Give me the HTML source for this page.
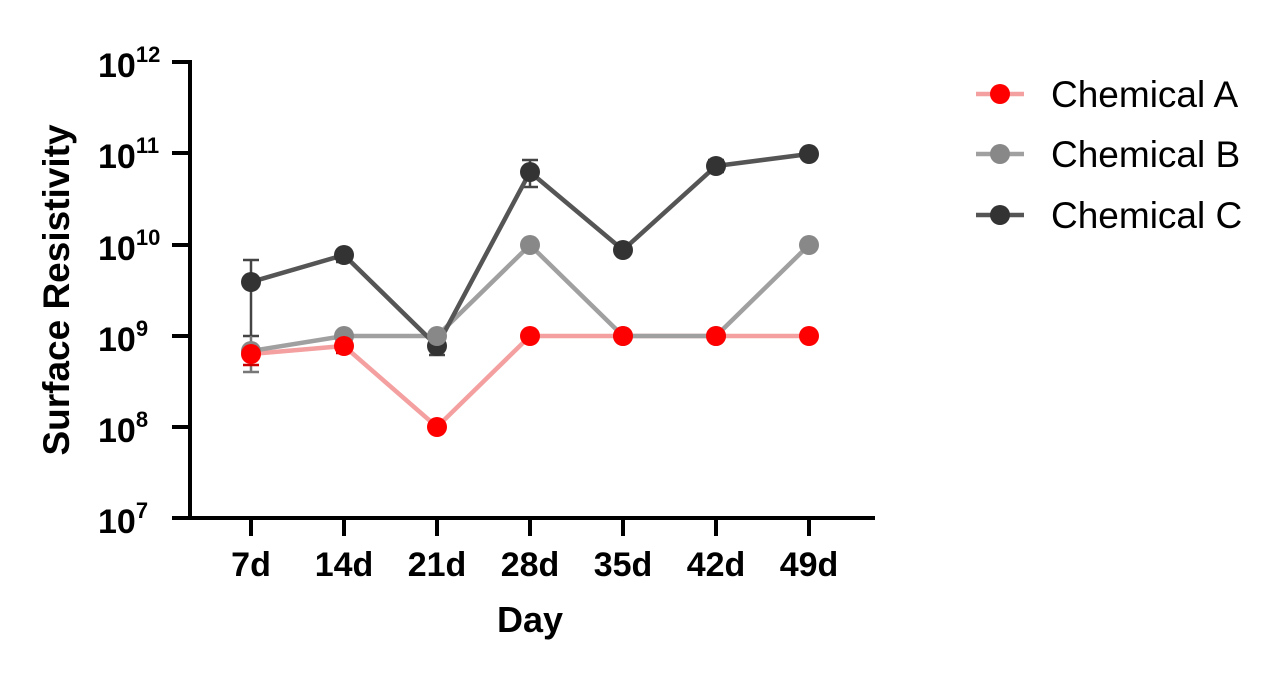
<!DOCTYPE html><html><head><style>body{margin:0;background:#fff}</style></head><body>
<svg width="1280" height="671" xmlns="http://www.w3.org/2000/svg" font-family="Liberation Sans, Arial, sans-serif">
<g stroke="#000" stroke-width="4" fill="none">
<path d="M190 60 V518 H875"/>
<path d="M172 62H190M172 153H190M172 245H190M172 336H190M172 427H190M172 518H190"/>
<path d="M251 518V536M344 518V536M437 518V536M530 518V536M623 518V536M716 518V536M809 518V536"/>
</g>
<g font-weight="bold" font-size="34">
<text x="98" y="77">10<tspan dy="-15" font-size="22">12</tspan></text>
<text x="98" y="168">10<tspan dy="-15" font-size="22">11</tspan></text>
<text x="98" y="260">10<tspan dy="-15" font-size="22">10</tspan></text>
<text x="98" y="351">10<tspan dy="-15" font-size="22">9</tspan></text>
<text x="98" y="442">10<tspan dy="-15" font-size="22">8</tspan></text>
<text x="98" y="533">10<tspan dy="-15" font-size="22">7</tspan></text>
</g>
<g font-weight="bold" font-size="34" text-anchor="middle">
<text x="251" y="576">7d</text><text x="344" y="576">14d</text><text x="437" y="576">21d</text><text x="530" y="576">28d</text><text x="623" y="576">35d</text><text x="716" y="576">42d</text><text x="809" y="576">49d</text>
<text x="530" y="632" font-size="36">Day</text>
<text transform="translate(69 290) rotate(-90)" font-size="37">Surface Resistivity</text>
</g>
<g stroke-width="2.5" fill="none">
<path stroke="#444" d="M251 260V336M243 260H259M243 336H259M344 250V262M336 250H352M336 262H352M437 338V355M429 355H445M530 160V187M522 160H538M522 187H538M716 160V172M708 160H724M708 172H724"/>
<path stroke="#777" d="M251 336V372M243 372H259"/>
<path stroke="#c00" d="M251 347V365M243 365H259M344 340V353M336 353H352"/>
</g>
<g stroke-width="4.5" fill="none">
<polyline stroke="#f4a0a0" points="251,354 344,346 437,427 530,336 623,336 716,336 809,336"/>
<polyline stroke="#a0a0a0" points="251,351 344,336 437,336 530,245 623,336 716,336 809,245"/>
<polyline stroke="#555" points="251,282 344,255 437,346 530,172 623,250 716,166 809,154"/>
</g>
<g fill="#333"><circle cx="251" cy="282" r="10"/><circle cx="344" cy="255" r="10"/><circle cx="437" cy="346" r="10"/><circle cx="530" cy="172" r="10"/><circle cx="623" cy="250" r="10"/><circle cx="716" cy="166" r="10"/><circle cx="809" cy="154" r="10"/></g>
<g fill="#888"><circle cx="251" cy="351" r="10"/><circle cx="344" cy="336" r="10"/><circle cx="437" cy="336" r="10"/><circle cx="530" cy="245" r="10"/><circle cx="623" cy="336" r="10"/><circle cx="716" cy="336" r="10"/><circle cx="809" cy="245" r="10"/></g>
<g fill="#f00"><circle cx="251" cy="354" r="10"/><circle cx="344" cy="346" r="10"/><circle cx="437" cy="427" r="10"/><circle cx="530" cy="336" r="10"/><circle cx="623" cy="336" r="10"/><circle cx="716" cy="336" r="10"/><circle cx="809" cy="336" r="10"/></g>
<g stroke-width="4.5"><path stroke="#f4a0a0" d="M976 94H1024"/><path stroke="#a0a0a0" d="M976 154H1024"/><path stroke="#555" d="M976 215H1024"/></g>
<circle cx="1000" cy="94" r="10" fill="#f00"/><circle cx="1000" cy="154" r="10" fill="#888"/><circle cx="1000" cy="215" r="10" fill="#333"/>
<g font-size="37"><text x="1051" y="107">Chemical A</text><text x="1051" y="167">Chemical B</text><text x="1051" y="228">Chemical C</text></g>
</svg></body></html>
